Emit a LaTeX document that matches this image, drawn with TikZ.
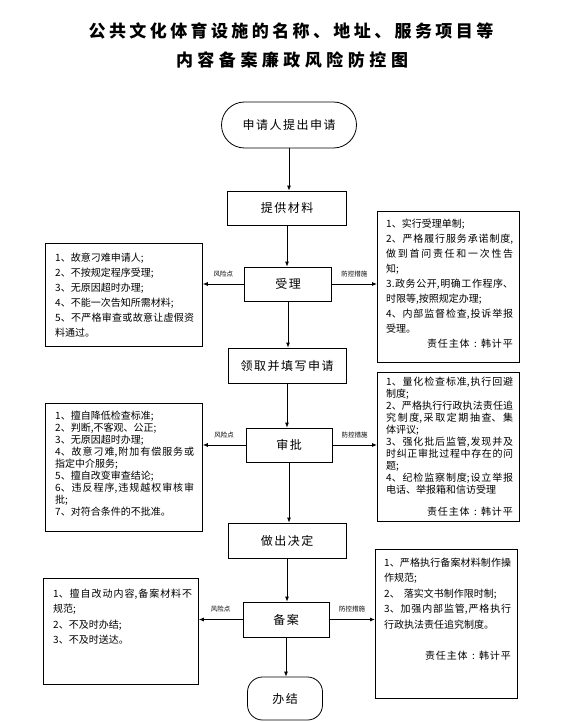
\documentclass[tikz,border=0pt]{standalone}
\usepackage{fontspec}
\setmainfont{Noto Sans CJK SC}
\usetikzlibrary{arrows.meta}
\XeTeXlinebreaklocale "zh"
\XeTeXlinebreakskip=0pt plus 3pt
\makeatletter
\newcommand\spreadtxt[2]{\@tfor\spr@ch:=#2\do{\makebox[#1]{\spr@ch}}}
\makeatother
\begin{document}
\begin{tikzpicture}[x=1pt,y=-1pt,
  mainbox/.style={draw, line width=0.8pt, minimum height=34pt, inner sep=0pt, font=\fontsize{12}{14}\selectfont},
  sidebox/.style={draw, line width=0.8pt, anchor=north west, inner sep=0pt},
  sidetxt/.style={anchor=north west, inner sep=0pt, align=justify, font=\fontsize{10}{15}\selectfont},
  flow/.style={line width=0.8pt, -{Latex[length=5pt,width=4pt]}},
  lbl/.style={font=\fontsize{6.5}{7}\selectfont, inner sep=1pt, above=6pt, midway},
  titlef/.style={inner sep=0pt, font=\fontsize{17}{20}\selectfont\bfseries}
]
\useasboundingbox (0,0) rectangle (565,722);

% titles
\node[titlef] (title1) at (291,31) {\spreadtxt{20.4pt}{公共文化体育设施的名称、地址、服务项目等}};
\node[titlef] (title2) at (292,60) {\spreadtxt{21.5pt}{内容备案廉政风险防控图}};

% main flow
\node[draw, line width=0.8pt, rounded corners=23pt, minimum width=135pt, minimum height=46pt, inner sep=0pt, font=\fontsize{12}{14}\selectfont] (start) at (289,125) {\spreadtxt{13.5pt}{申请人提出申请}};
\node[mainbox, minimum width=119pt] (s1) at (287,208) {\spreadtxt{13.5pt}{提供材料}};
\node[mainbox, minimum width=87pt] (s2) at (288,284) {\spreadtxt{13.5pt}{受理}};
\node[mainbox, minimum width=118pt, minimum height=35pt] (s3) at (287,365.5) {\spreadtxt{13.5pt}{领取并填写申请}};
\node[mainbox, minimum width=86pt] (s4) at (289,445) {\spreadtxt{13.5pt}{审批}};
\node[mainbox, minimum width=118pt, minimum height=35pt] (s5) at (287,540.5) {\spreadtxt{13.5pt}{做出决定}};
\node[mainbox, minimum width=86pt, minimum height=35pt] (s6) at (286,619.5) {\spreadtxt{13.5pt}{备案}};
\node[draw, line width=0.8pt, rounded corners=15pt, minimum width=75pt, minimum height=43pt, inner sep=0pt, font=\fontsize{12}{14}\selectfont] (end) at (285,698.5) {\spreadtxt{13.5pt}{办结}};

% side boxes
\node[sidebox, minimum width=157pt, minimum height=103pt] (l1) at (45,243) {};
\node[sidebox, minimum width=142pt, minimum height=151pt] (r1) at (377,211) {};
\node[sidebox, minimum width=157pt, minimum height=128pt] (l2) at (45,403) {};
\node[sidebox, minimum width=142pt, minimum height=149pt] (r2) at (377,372) {};
\node[sidebox, minimum width=155pt, minimum height=106pt] (l3) at (43,578) {};
\node[sidebox, minimum width=142pt, minimum height=149pt] (r3) at (375,549) {};

% side texts
\node[sidetxt, text width=139pt] (l1t) at (55,252.4) {1、故意刁难申请人;\par
2、不按规定程序受理;\par
3、无原因超时办理;\par
4、不能一次告知所需材料;\par
5、不严格审查或故意让虚假资\linebreak 料通过。};

\node[sidetxt, text width=127pt] (r1t) at (386,218.4) {1、实行受理单制;\par
2、严格履行服务承诺制度,\linebreak 做到首问责任和一次性告\linebreak 知;\par
3.政务公开,明确工作程序、\linebreak 时限等,按照规定办理;\par
4、内部监督检查,投诉举报\linebreak 受理。\par
\hfill\spreadtxt{10.8pt}{责任主体:韩计平}};

\node[sidetxt, text width=139pt, font=\fontsize{10}{12}\selectfont] (l2t) at (55,410.4) {1、擅自降低检查标准;\par
2、判断,不客观、公正;\par
3、无原因超时办理;\par
4、故意刁难,附加有偿服务或\linebreak 指定中介服务;\par
5、擅自改变审查结论;\par
6、违反程序,违规越权审核审\linebreak 批;\par
7、对符合条件的不批准。};

\node[sidetxt, text width=127pt, font=\fontsize{10}{12}\selectfont] (r2t) at (386,377.1) {1、量化检查标准,执行回避\linebreak 制度;\par
2、严格执行行政执法责任追\linebreak 究制度,采取定期抽查、集\linebreak 体评议;\par
3、强化批后监管,发现并及\linebreak 时纠正审批过程中存在的问\linebreak 题;\par
4、纪检监察制度;设立举报\linebreak 电话、举报箱和信访受理\par
\vspace{10pt}
\hfill\spreadtxt{10.8pt}{责任主体:韩计平}};

\node[sidetxt, text width=139pt, font=\fontsize{10}{15.5}\selectfont] (l3t) at (53,588.4) {1、擅自改动内容,备案材料不\linebreak 规范;\par
2、不及时办结;\par
3、不及时送达。};

\node[sidetxt, text width=127pt, font=\fontsize{10}{15.5}\selectfont] (r3t) at (384,557.4) {1、严格执行备案材料制作操\linebreak 作规范;\par
2、\hspace{4pt}落实文书制作限时制;\par
3、加强内部监管,严格执行\linebreak 行政执法责任追究制度。\par
\mbox{}\par
\hfill\spreadtxt{10.8pt}{责任主体:韩计平}};

% vertical flow
\draw[flow] (start.south) -- (start.south |- s1.north);
\draw[flow] (s1.south) -- (s1.south |- s2.north);
\draw[flow] (s2.south) -- (s2.south |- s3.north);
\draw[flow] (s3.south) -- (s3.south |- s4.north);
\draw[flow] (s4.south) -- (s4.south |- s5.north);
\draw[flow] (s5.south) -- (s5.south |- s6.north);
\draw[flow] (s6.south) -- (s6.south |- end.north);

% side arrows
\draw[flow] (s2.west) -- (s2.west -| l1.east) node[lbl] {风险点};
\draw[flow] (s2.east) -- (s2.east -| r1.west) node[lbl] {防控措施};
\draw[flow] (s4.west) -- (s4.west -| l2.east) node[lbl] {风险点};
\draw[flow] (s4.east) -- (s4.east -| r2.west) node[lbl] {防控措施};
\draw[flow] (s6.west) -- (s6.west -| l3.east) node[lbl] {风险点};
\draw[flow] (s6.east) -- (s6.east -| r3.west) node[lbl] {防控措施};
\end{tikzpicture}
\end{document}
